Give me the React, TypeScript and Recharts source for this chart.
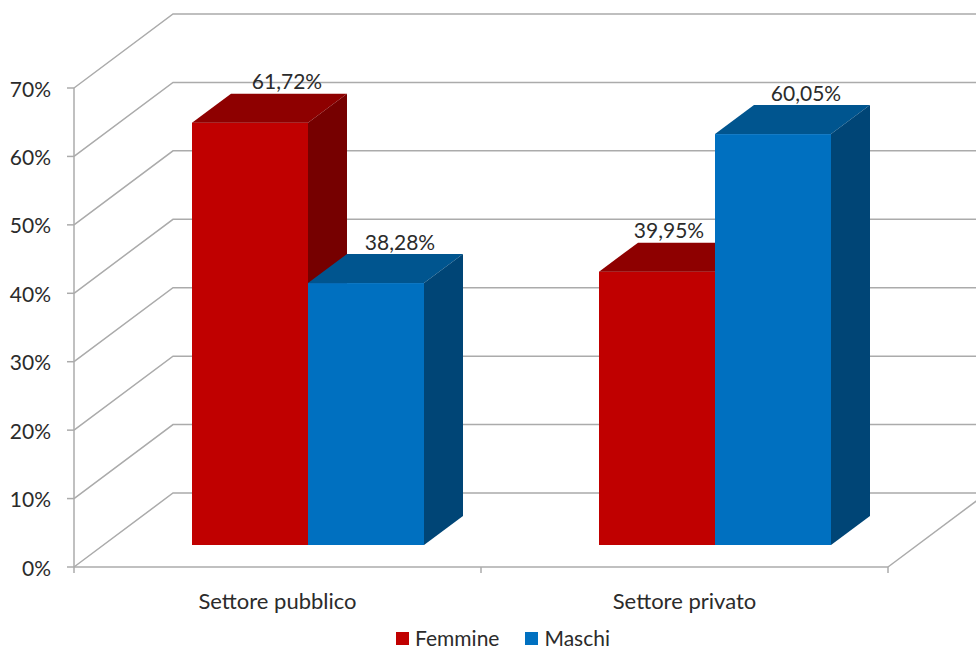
import { BarChart, Bar, XAxis, YAxis, CartesianGrid, LabelList } from "recharts"

const categories = ["Settore pubblico", "Settore privato"]
const femmine = [61.72, 39.95]
const maschi = [38.28, 60.05]
const yTicks = [0, 10, 20, 30, 40, 50, 60, 70]
const seriesNames = ["Femmine", "Maschi"]

const data = categories.map((settore, i) => ({ settore, femmine: femmine[i], maschi: maschi[i] }))

const W = 976
const H = 650
const yAxisWidth = 60
const xAxisHeight = 40
const margin = { top: 66, right: 58, bottom: 105 - xAxisHeight, left: 104 - yAxisWidth }
const plotLeft = 104
const plotBottom = 545
// oblique offsets of the front edge, back wall and bar depth, relative to the bar plane
const front = { dx: -30, dy: 22 }
const back = { dx: 69, dy: -52 }
const depth = { dx: 39, dy: -29 }

const gridColor = "#ABABAB"
const textColor = "#2b2b2b"
const font = "Lato, 'Open Sans', sans-serif"
const fontSize = 21

const palette = {
  femmine: { front: "#C00000", top: "#8E0000", side: "#760000" },
  maschi: { front: "#0070C0", top: "#00558F", side: "#004576" },
}

// label nudges (Excel places 3D labels a bit to the right)
const labelShift = { femmine: [37, 12], maschi: [34, 33] }

const fmt = (v: number) => v.toFixed(2).replace(".", ",") + "%"

function GridLine(props: any) {
  const { x1, x2, y1 } = props
  const fx = x1 + front.dx
  const fy = y1 + front.dy
  const bx = x1 + back.dx
  const by = y1 + back.dy
  const isFloor = Math.abs(y1 - plotBottom) < 0.5
  const stroke = { stroke: gridColor, strokeWidth: 1.5, fill: "none" }
  return (
    <g key={`grid-${y1}`}>
      <polyline points={`${fx},${fy} ${bx},${by} ${W + 5},${by}`} {...stroke} />
      <line x1={fx - 7} y1={fy} x2={fx} y2={fy} {...stroke} />
      {isFloor && (
        <g>
          <line x1={fx} y1={margin.top + front.dy} x2={fx} y2={fy} {...stroke} />
          <line x1={fx} y1={fy} x2={x2 + front.dx} y2={fy} {...stroke} />
          <line x1={x2 + front.dx} y1={fy} x2={x2 + back.dx} y2={by} {...stroke} />
          {[x1, (x1 + x2) / 2, x2].map((tx) => (
            <line key={tx} x1={tx + front.dx} y1={fy} x2={tx + front.dx} y2={fy + 6} {...stroke} />
          ))}
        </g>
      )}
    </g>
  )
}

function YTick(props: any) {
  const { y, payload } = props
  return (
    <text
      x={plotLeft + front.dx - 23}
      y={y + front.dy}
      textAnchor="end"
      dominantBaseline="central"
      fontFamily={font}
      fontSize={fontSize}
      fill={textColor}
    >
      {payload.value}%
    </text>
  )
}

function XTick(props: any) {
  const { x, payload } = props
  return (
    <text
      x={x + front.dx}
      y={plotBottom + front.dy + 33}
      textAnchor="middle"
      dominantBaseline="central"
      fontFamily={font}
      fontSize={22}
      fill={textColor}
    >
      {payload.value}
    </text>
  )
}

function Box3D(props: any) {
  const { x, y, width, height, colors } = props
  if (width == null || height == null) return null
  const { dx, dy } = depth
  const r = x + width
  const b = y + height
  return (
    <g>
      <rect x={x} y={y} width={width} height={height} fill={colors.front} />
      <polygon points={`${x},${y} ${x + dx},${y + dy} ${r + dx},${y + dy} ${r},${y}`} fill={colors.top} />
      <polygon points={`${r},${y} ${r + dx},${y + dy} ${r + dx},${b + dy} ${r},${b}`} fill={colors.side} />
    </g>
  )
}

const makeLabel = (shifts: number[]) => (p: any) => {
  const vb = p.viewBox || p
  const x = p.x ?? vb.x
  const y = p.y ?? vb.y
  const width = p.width ?? vb.width
  const idx = p.index ?? 0
  return (
    <text
      x={x + width / 2 + shifts[idx]}
      y={y - 42}
      textAnchor="middle"
      dominantBaseline="central"
      fontFamily={font}
      fontSize={fontSize}
      fill={textColor}
    >
      {fmt(Number(p.value))}
    </text>
  )
}

export default function App() {
  return (
    <div style={{ position: "absolute", left: 0, top: 0, width: W, height: H, background: "#fff", overflow: "hidden" }}>
      <BarChart width={W} height={H} data={data} margin={margin} barGap={0}>
        <CartesianGrid horizontal={GridLine} vertical={false} />
        <XAxis
          dataKey="settore"
          height={xAxisHeight}
          axisLine={false}
          tickLine={false}
          tick={XTick}
          interval={0}
        />
        <YAxis
          domain={[0, 70]}
          ticks={yTicks}
          width={yAxisWidth}
          axisLine={false}
          tickLine={false}
          tick={YTick}
          interval={0}
        />
        <Bar
          dataKey="femmine"
          name={seriesNames[0]}
          barSize={116}
          fill={palette.femmine.front}
          isAnimationActive={false}
          shape={(p: any) => <Box3D {...p} colors={palette.femmine} />}
        >
          <LabelList dataKey="femmine" content={makeLabel(labelShift.femmine)} />
        </Bar>
        <Bar
          dataKey="maschi"
          name={seriesNames[1]}
          barSize={116}
          fill={palette.maschi.front}
          isAnimationActive={false}
          shape={(p: any) => <Box3D {...p} colors={palette.maschi} />}
        >
          <LabelList dataKey="maschi" content={makeLabel(labelShift.maschi)} />
        </Bar>
      </BarChart>
      <div
        style={{
          position: "absolute",
          left: 396,
          top: 625,
          display: "flex",
          alignItems: "center",
          fontFamily: font,
          fontSize: fontSize,
          color: textColor,
          lineHeight: "26px",
        }}
      >
        {seriesNames.map((name, i) => (
          <div key={name} style={{ display: "flex", alignItems: "center", marginRight: i === 0 ? 26 : 0 }}>
            <span
              style={{
                display: "inline-block",
                width: 13,
                height: 13,
                marginRight: 6,
                background: i === 0 ? palette.femmine.front : palette.maschi.front,
              }}
            />
            {name}
          </div>
        ))}
      </div>
    </div>
  )
}
